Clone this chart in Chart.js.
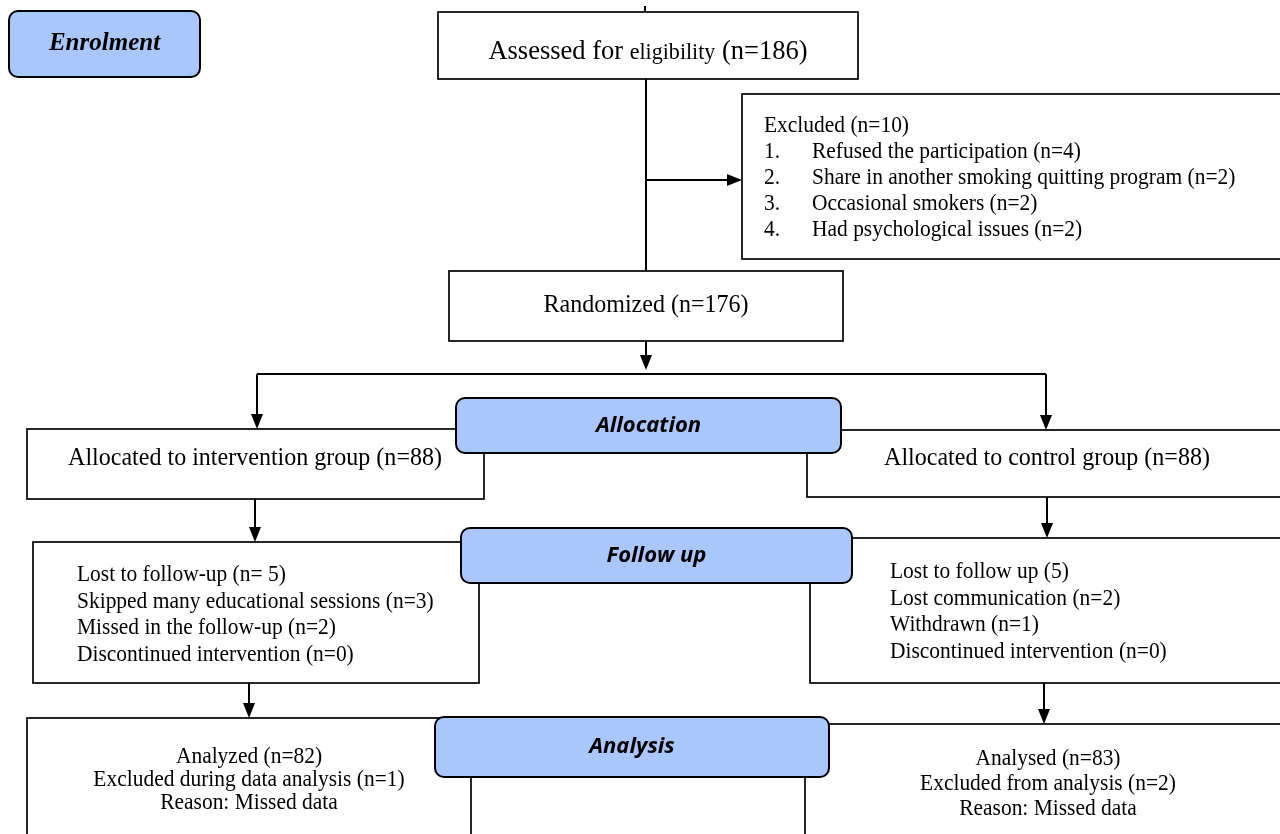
<!DOCTYPE html>
<html>
<head>
<meta charset="utf-8">
<script src="https://cdn.jsdelivr.net/npm/chart.js@4.4.1/dist/chart.umd.min.js"></script>
<style>
  html, body { margin: 0; padding: 0; background: #fff; }
  canvas { display: block; }
</style>
</head>
<body>
<canvas id="flow" width="1280" height="834"></canvas>
<script>
// ---- chart content ----
const stageLabels = ['Enrolment', 'Allocation', 'Follow up', 'Analysis'];
const assessedCount = 186;
const excludedCount = 10;
const excludedReasons = ['Refused the participation', 'Share in another smoking quitting program', 'Occasional smokers', 'Had psychological issues'];
const excludedCounts = [4, 2, 2, 2];
const randomizedCount = 176;
const groupNames = ['intervention', 'control'];
const allocatedCounts = [88, 88];
const followUpIntervention = ['Lost to follow-up (n= 5)', 'Skipped many educational sessions (n=3)', 'Missed in the follow-up (n=2)', 'Discontinued intervention (n=0)'];
const followUpControl = ['Lost to follow up (5)', 'Lost communication (n=2)', 'Withdrawn (n=1)', 'Discontinued intervention (n=0)'];
const analysisIntervention = ['Analyzed (n=82)', 'Excluded during data analysis (n=1)', 'Reason: Missed data'];
const analysisControl = ['Analysed (n=83)', 'Excluded from analysis (n=2)', 'Reason: Missed data'];

// ---- layout (chart units = pixels of the 1280x834 page) ----
const stageBoxes = [
    { x0: 9, y0: 11, x1: 200, y1: 77 },
    { x0: 456, y0: 398, x1: 841, y1: 453 },
    { x0: 461, y0: 528, x1: 852, y1: 583 },
    { x0: 435, y0: 717, x1: 829, y1: 777 }
];
const box = {
    assessed: { x0: 438, y0: 12, x1: 858, y1: 79 },
    excluded: { x0: 742, y0: 94, x1: 1290, y1: 259 },
    randomized: { x0: 449, y0: 271, x1: 843, y1: 341 },
    allocL: { x0: 27, y0: 429, x1: 484, y1: 499 },
    allocR: { x0: 807, y0: 430, x1: 1290, y1: 497 },
    followL: { x0: 33, y0: 542, x1: 479, y1: 683 },
    followR: { x0: 810, y0: 538, x1: 1290, y1: 683 },
    analysisL: { x0: 27, y0: 718, x1: 471, y1: 860 },
    analysisR: { x0: 805, y0: 724, x1: 1290, y1: 860 }
};
const serif = '"Liberation Serif", "Times New Roman", serif';
const squeeze = 0.95; // source serif is a touch narrower than Times

const flowPlugin = {
    id: 'flow',
    afterDatasetsDraw(chart) {
        const c = chart.ctx;
        const sx = v => chart.scales.x.getPixelForValue(v);
        const sy = v => chart.scales.y.getPixelForValue(v);

        function rect(b) {
            c.save();
            c.fillStyle = '#fff';
            c.strokeStyle = '#000';
            c.lineWidth = 1.7;
            c.fillRect(sx(b.x0), sy(b.y0), sx(b.x1) - sx(b.x0), sy(b.y1) - sy(b.y0));
            c.strokeRect(sx(b.x0), sy(b.y0), sx(b.x1) - sx(b.x0), sy(b.y1) - sy(b.y0));
            c.restore();
        }
        function line(pts) {
            c.save();
            c.strokeStyle = '#000';
            c.lineWidth = 2;
            c.beginPath();
            pts.forEach((p, i) => i ? c.lineTo(sx(p[0]), sy(p[1])) : c.moveTo(sx(p[0]), sy(p[1])));
            c.stroke();
            c.restore();
        }
        function arrow(x, y, dir) {
            const px = sx(x), py = sy(y);
            c.save();
            c.fillStyle = '#000';
            c.beginPath();
            if (dir === 'down') {
                c.moveTo(px, py); c.lineTo(px - 6, py - 15); c.lineTo(px + 6, py - 15);
            } else {
                c.moveTo(px, py); c.lineTo(px - 15, py - 6); c.lineTo(px - 15, py + 6);
            }
            c.closePath();
            c.fill();
            c.restore();
        }
        function text(str, x, y, font, align, sq) {
            c.save();
            c.fillStyle = '#000';
            c.font = font;
            c.textAlign = align || 'center';
            c.textBaseline = 'middle';
            c.translate(sx(x), sy(y));
            c.scale(sq || squeeze, 1);
            c.fillText(str, 0, 0);
            c.restore();
        }
        function stage(b, label, font) {
            const x = sx(b.x0), y = sy(b.y0), w = sx(b.x1) - x, h = sy(b.y1) - y;
            c.save();
            c.fillStyle = '#a9c7fb';
            c.strokeStyle = '#000';
            c.lineWidth = 2;
            c.beginPath();
            c.roundRect(x, y, w, h, 9);
            c.fill();
            c.stroke();
            c.restore();
            text(label, (b.x0 + b.x1) / 2, (b.y0 + b.y1) / 2, font, 'center', 1);
        }

        // plain boxes
        Object.values(box).forEach(rect);

        // connectors
        line([[645, 6], [645, 12]]);
        line([[646, 79], [646, 271]]);
        line([[646, 180], [728, 180]]);
        arrow(742, 180, 'right');
        line([[646, 341], [646, 356]]);
        arrow(646, 370, 'down');
        line([[257, 374], [1046, 374]]);
        line([[257, 374], [257, 415]]);
        arrow(257, 429, 'down');
        line([[1046, 374], [1046, 416]]);
        arrow(1046, 430, 'down');
        line([[255, 499], [255, 528]]);
        arrow(255, 542, 'down');
        line([[1047, 497], [1047, 524]]);
        arrow(1047, 538, 'down');
        line([[249, 683], [249, 704]]);
        arrow(249, 718, 'down');
        line([[1044, 683], [1044, 710]]);
        arrow(1044, 724, 'down');

        // text in boxes
        const big = (24 / squeeze).toFixed(1) + 'px ' + serif;
        const mid = (21.5 / squeeze).toFixed(1) + 'px ' + serif;
        // assessed line, "eligibility" is set a size smaller in the source
        c.save();
        const parts = [['Assessed for ', (26.5 / squeeze).toFixed(1) + 'px ' + serif], ['eligibility', (22 / squeeze).toFixed(1) + 'px ' + serif], [' (n=' + assessedCount + ')', (26.5 / squeeze).toFixed(1) + 'px ' + serif]];
        let total = 0;
        parts.forEach(p => { c.font = p[1]; total += c.measureText(p[0]).width; });
        c.translate(sx(648), sy(59));
        c.scale(squeeze, 1);
        let cx = -total / 2;
        c.fillStyle = '#000';
        c.textBaseline = 'alphabetic';
        parts.forEach(p => { c.font = p[1]; c.fillText(p[0], cx, 0); cx += c.measureText(p[0]).width; });
        c.restore();

        const exY = [126, 152, 178, 204, 230];
        text('Excluded (n=' + excludedCount + ')', 764, exY[0], mid, 'left');
        excludedReasons.forEach((r, i) => {
            text((i + 1) + '.', 764, exY[i + 1], mid, 'left');
            text(r + ' (n=' + excludedCounts[i] + ')', 812, exY[i + 1], mid, 'left');
        });

        text('Randomized (n=' + randomizedCount + ')', 646, 305, big);
        text('Allocated to ' + groupNames[0] + ' group (n=' + allocatedCounts[0] + ')', 255, 458, big);
        text('Allocated to ' + groupNames[1] + ' group (n=' + allocatedCounts[1] + ')', 1047, 458, big);

        followUpIntervention.forEach((s, i) => text(s, 77, 575 + i * 26.7, mid, 'left'));
        followUpControl.forEach((s, i) => text(s, 890, 572 + i * 26.7, mid, 'left'));
        analysisIntervention.forEach((s, i) => text(s, 249, 757 + i * 23, mid));
        analysisControl.forEach((s, i) => text(s, 1048, 759 + i * 25, mid));

        // stage labels on top
        stage(stageBoxes[0], stageLabels[0], 'italic bold 25px ' + serif);
        for (let i = 1; i < stageLabels.length; i++) {
            stage(stageBoxes[i], stageLabels[i], 'italic bold 22px "Open Sans", Lato, sans-serif');
        }
    }
};

const ctx = document.getElementById('flow').getContext('2d');
const flowChart = new Chart(ctx, {
    type: 'scatter',
    data: { datasets: [{ data: [], pointRadius: 0 }] },
    options: {
        responsive: false,
        animation: false,
        devicePixelRatio: 1,
        layout: { padding: 0 },
        plugins: { legend: { display: false }, tooltip: { enabled: false } },
        scales: {
            x: { type: 'linear', min: 0, max: 1280, display: false },
            y: { type: 'linear', min: 0, max: 834, reverse: true, display: false }
        }
    },
    plugins: [flowPlugin]
});
</script>
</body>
</html>
